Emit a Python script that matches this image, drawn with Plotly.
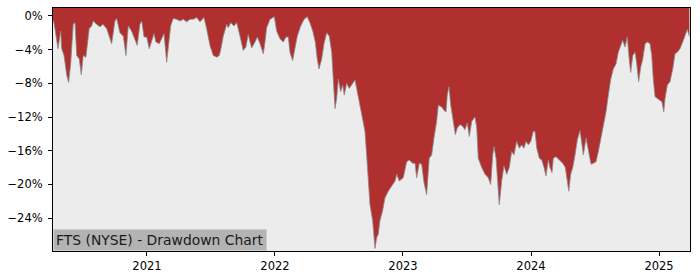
import plotly.graph_objects as go

# decimal years
years = [
2020.266,2020.273,2020.281,2020.295,2020.305,2020.326,2020.334,2020.352,2020.373,2020.388,
2020.404,2020.424,2020.438,2020.451,2020.471,2020.487,2020.502,2020.523,2020.534,2020.549,
2020.568,2020.580,2020.607,2020.633,2020.656,2020.685,2020.711,2020.724,2020.750,2020.763,
2020.789,2020.815,2020.836,2020.854,2020.880,2020.906,2020.924,2020.945,2020.959,2020.977,
2020.998,2021.018,2021.037,2021.055,2021.070,2021.096,2021.115,2021.133,2021.154,2021.166,
2021.185,2021.205,2021.232,2021.258,2021.284,2021.310,2021.336,2021.362,2021.388,2021.414,
2021.445,2021.466,2021.492,2021.518,2021.545,2021.565,2021.578,2021.596,2021.623,2021.635,
2021.654,2021.680,2021.701,2021.727,2021.752,2021.773,2021.791,2021.805,2021.818,2021.844,
2021.862,2021.883,2021.909,2021.922,2021.935,2021.961,2021.995,2022.013,2022.039,2022.065,
2022.086,2022.104,2022.117,2022.138,2022.156,2022.174,2022.201,2022.227,2022.252,2022.273,
2022.295,2022.315,2022.330,2022.344,2022.365,2022.383,2022.404,2022.424,2022.443,2022.455,
2022.469,2022.482,2022.495,2022.513,2022.529,2022.541,2022.560,2022.580,2022.599,2022.625,
2022.643,2022.664,2022.685,2022.703,2022.716,2022.729,2022.742,2022.763,2022.781,2022.795,
2022.807,2022.820,2022.841,2022.859,2022.885,2022.912,2022.938,2022.951,2022.971,2023.002,
2023.029,2023.049,2023.076,2023.094,2023.107,2023.127,2023.146,2023.164,2023.185,2023.205,
2023.224,2023.242,2023.263,2023.276,2023.302,2023.320,2023.336,2023.346,2023.359,2023.373,
2023.393,2023.409,2023.424,2023.445,2023.466,2023.484,2023.502,2023.518,2023.537,2023.563,
2023.576,2023.588,2023.615,2023.641,2023.666,2023.685,2023.701,2023.711,2023.727,2023.740,
2023.752,2023.771,2023.789,2023.810,2023.830,2023.849,2023.867,2023.888,2023.909,2023.927,
2023.945,2023.961,2023.979,2023.998,2024.018,2024.031,2024.045,2024.065,2024.084,2024.102,
2024.117,2024.135,2024.148,2024.164,2024.174,2024.195,2024.221,2024.248,2024.268,2024.284,
2024.295,2024.310,2024.326,2024.344,2024.362,2024.383,2024.396,2024.409,2024.430,2024.448,
2024.469,2024.487,2024.508,2024.526,2024.545,2024.565,2024.586,2024.604,2024.623,2024.643,
2024.664,2024.682,2024.701,2024.716,2024.734,2024.752,2024.768,2024.779,2024.795,2024.813,
2024.826,2024.841,2024.857,2024.873,2024.891,2024.909,2024.930,2024.943,2024.955,2024.969,
2024.987,2025.008,2025.023,2025.037,2025.047,2025.065,2025.086,2025.107,2025.125,2025.143,
2025.164,2025.185,2025.203,2025.221,2025.237,
]

# drawdown in percent
drawdown = [
-0.5,-0.8,-1.5,-2.9,-3.9,-1.8,-3.9,-4.7,-7.0,-7.9,
-5.7,-1.0,-0.8,-4.7,-5.1,-7.0,-4.7,-4.9,-3.5,-1.5,
-1.2,-0.6,-1.0,-1.3,-1.0,-1.5,-2.7,-3.3,-0.6,-0.3,
-2.0,-2.4,-4.7,-1.2,-1.8,-2.7,-3.5,-1.0,-0.6,-2.5,
-2.5,-3.9,-2.9,-2.1,-3.1,-3.3,-2.7,-2.1,-5.5,-4.1,
-1.2,-0.3,-0.4,-0.6,-0.4,-0.7,-0.4,-0.4,-0.2,-0.7,
-0.2,-1.5,-3.5,-4.7,-4.9,-4.7,-3.9,-2.4,-1.0,-1.4,
-0.8,-1.2,-0.8,-2.4,-4.1,-3.7,-2.2,-3.1,-3.8,-3.1,
-2.5,-3.3,-4.5,-3.1,-1.4,-0.4,-0.1,-1.8,-2.7,-3.1,
-2.5,-2.5,-4.3,-5.3,-3.9,-2.4,-1.2,-0.4,-0.1,-0.8,
-1.8,-3.1,-5.1,-6.3,-5.1,-3.3,-2.0,-2.4,-4.3,-7.5,
-11.0,-9.8,-7.5,-9.0,-8.2,-9.4,-8.0,-8.6,-8.2,-7.6,
-9.0,-10.6,-12.2,-13.7,-16.5,-19.2,-22.4,-24.3,-27.6,-26.3,
-25.9,-24.3,-23.1,-21.6,-20.8,-20.2,-19.6,-18.8,-19.6,-19.2,
-17.3,-17.1,-17.5,-17.5,-19.2,-17.5,-17.6,-19.8,-21.2,-16.9,
-16.5,-14.5,-12.5,-10.6,-10.8,-11.2,-11.4,-9.4,-8.4,-10.6,
-12.9,-14.1,-13.3,-12.9,-13.1,-13.5,-12.7,-14.3,-12.5,-12.0,
-13.3,-16.9,-18.0,-18.8,-19.2,-20.0,-16.5,-15.5,-16.9,-20.0,
-22.4,-19.6,-17.8,-18.8,-18.0,-16.1,-16.5,-14.9,-15.7,-15.3,
-15.7,-14.9,-15.3,-14.9,-13.7,-13.7,-15.7,-16.9,-17.1,-18.0,
-19.0,-17.1,-18.0,-18.6,-16.9,-16.7,-17.1,-17.5,-18.0,-19.6,
-20.8,-18.8,-18.0,-16.5,-14.7,-13.6,-15.3,-16.5,-14.5,-16.1,
-17.6,-17.5,-17.3,-16.1,-14.5,-13.3,-11.4,-9.4,-7.5,-6.3,
-5.7,-4.3,-3.5,-2.9,-3.7,-2.5,-5.3,-6.7,-4.7,-4.3,
-5.7,-7.8,-6.1,-5.1,-3.3,-3.1,-3.3,-4.7,-7.5,-9.6,
-9.8,-10.0,-10.2,-11.4,-9.8,-8.2,-7.8,-6.3,-4.5,-4.3,
-3.9,-3.1,-2.2,-1.6,-2.4,
]

year_ticks = [2021, 2022, 2023, 2024, 2025]
pct_ticks = [-24, -20, -16, -12, -8, -4, 0]
pct_labels = ["\u221224%", "\u221220%", "\u221216%", "\u221212%", "\u22128%", "\u22124%", "0%"]
title_text = "FTS (NYSE) - Drawdown Chart"

x_range = [2020.266, 2025.242]
y_range = [-27.9, 0.94]

RED = "#b03030"
BG = "#ececec"
FONT = "DejaVu Sans"

fig = go.Figure()
# top boundary (axis top) for the red fill
fig.add_trace(go.Scatter(x=years, y=[y_range[1] + 1] * len(years), mode="lines",
                         line=dict(width=0, color=RED), hoverinfo="skip", showlegend=False))
fig.add_trace(go.Scatter(x=years, y=drawdown, mode="lines", fill="tonexty",
                         fillcolor=RED, line=dict(color="#8a8a8a", width=0.8),
                         showlegend=False))

fig.update_layout(
    width=700, height=280,
    margin=dict(l=53, r=10, t=7, b=28),
    paper_bgcolor="white",
    plot_bgcolor=BG,
    font=dict(family=FONT, size=11.5, color="black"),
    xaxis=dict(range=x_range, tickvals=year_ticks, ticktext=[str(y) for y in year_ticks],
               showgrid=False, zeroline=False, showline=True, linecolor="black",
               linewidth=1, mirror=True, ticks="outside", ticklen=4, tickcolor="black",
               tickfont=dict(family=FONT, size=11.5, color="black")),
    yaxis=dict(range=y_range, tickvals=pct_ticks, ticktext=pct_labels,
               showgrid=False, zeroline=False, showline=True, linecolor="black",
               linewidth=1, mirror=True, ticks="outside", ticklen=4, tickcolor="black",
               ticklabelstandoff=3,
               tickfont=dict(family=FONT, size=11.5, color="black")),
    annotations=[dict(text=title_text, xref="paper", yref="paper", x=0, y=0,
                      xanchor="left", yanchor="bottom", showarrow=False,
                      bgcolor="#b3b3b3", borderpad=2,
                      font=dict(family=FONT, size=13.9, color="#1a1a1a"))],
)

fig.write_html("out.html")
